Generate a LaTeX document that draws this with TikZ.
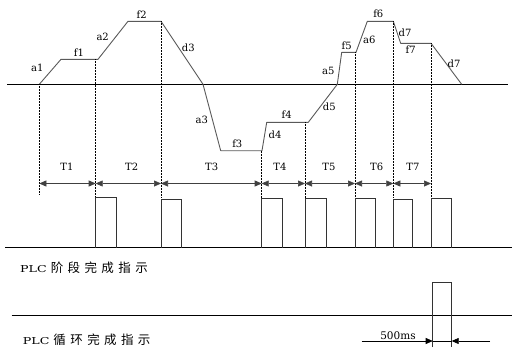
\documentclass[tikz,border=0pt]{standalone}
\usepackage{fontspec}
\setmainfont{DejaVu Serif}
\newfontfamily\cjkfont{Noto Sans CJK SC}
\usetikzlibrary{arrows.meta}
\newcommand\cjc[1]{\makebox[16.9pt][l]{#1}}
\newcommand\plcword{\scalebox{1.33}[1]{\fontsize{9.5}{10}\selectfont PLC}}
\begin{document}
\begin{tikzpicture}[x=1pt,y=-1pt,
  wave/.style={draw=black!65, line width=0.9pt, line join=round},
  guide/.style={densely dotted, line width=0.5pt},
  dimarrow/.style={{Triangle[length=7pt,width=6pt]}-{Triangle[length=7pt,width=6pt]}, line width=0.6pt, draw=black!75},
  onearrow/.style={-{Triangle[length=7pt,width=6pt]}, line width=0.6pt},
  lbl/.style={font=\fontsize{10}{11}\selectfont, inner sep=0pt},
  pulse/.style={line width=0.7pt, draw=black!80},
  base/.style={line width=0.6pt},
  cjklbl/.style={inner sep=0pt, anchor=west}
]
\useasboundingbox (0,0) rectangle (513,348);

% axes / baselines
\draw[base] (7,84.3) -- (508,84.3);
\draw[base] (5,247.7) -- (511.7,247.7);
\draw[base] (11.7,315) -- (511.7,315);

% frequency profile
\draw[wave] (39.3,84.3) -- (61,59.3) -- (98,59.3) -- (128,21.3) -- (161,21.3)
  -- (203,84.3) -- (220.7,150.7) -- (262,150.7) -- (266.7,122.3) -- (308.3,122.3)
  -- (337.3,84.3) -- (341.7,52.3) -- (356,52.3) -- (367.3,21.3) -- (393.3,21.3)
  -- (400.7,43.3) -- (431,43.3) -- (461.7,84.3);

% stage boundary coordinates
\coordinate (g0t) at (39.3,84.3);  \coordinate (g0b) at (39.3,195);
\coordinate (g1t) at (95.7,59.3);  \coordinate (g1b) at (95.7,198);
\coordinate (g2t) at (161,21.3);   \coordinate (g2b) at (161,198);
\coordinate (g3t) at (261.7,150.7);\coordinate (g3b) at (261.7,198);
\coordinate (g4t) at (305,122.3);  \coordinate (g4b) at (305,198);
\coordinate (g5t) at (355,52.3);   \coordinate (g5b) at (355,198);
\coordinate (g6t) at (393.3,21.3); \coordinate (g6b) at (393.3,198);
\coordinate (g7t) at (431,43.3);   \coordinate (g7b) at (431,198);
\foreach \i in {0,...,7} \draw[guide] (g\i t) -- (g\i b);

% stage duration arrows
\coordinate (a0) at (39.3,183.5);
\coordinate (a1) at (95.7,183.5);
\coordinate (a2) at (161,183.5);
\coordinate (a3) at (261.7,183.5);
\coordinate (a4) at (305,183.5);
\coordinate (a5) at (355,183.5);
\coordinate (a6) at (393.3,183.5);
\coordinate (a7) at (431,183.5);
\draw[dimarrow] (a0) -- (a1);
\draw[dimarrow] (a1) -- (a2);
\draw[dimarrow] (a2) -- (a3);
\draw[dimarrow] (a3) -- (a4);
\draw[dimarrow] (a4) -- (a5);
\draw[dimarrow] (a5) -- (a6);
\draw[dimarrow] (a6) -- (a7);

\node[lbl] (T1) at (67,167) {T1};
\node[lbl] (T2) at (131.7,167) {T2};
\node[lbl] (T3) at (211.7,167) {T3};
\node[lbl] (T4) at (280,167) {T4};
\node[lbl] (T5) at (329,167) {T5};
\node[lbl] (T6) at (376.7,167) {T6};
\node[lbl] (T7) at (413,167) {T7};

% curve labels
\node[lbl] (la1) at (37.3,67.7) {a1};
\node[lbl] (lf1) at (79,52.7) {f1};
\node[lbl] (la2) at (102.7,36.7) {a2};
\node[lbl] (lf2) at (141.7,15) {f2};
\node[lbl] (ld3) at (188.3,47.7) {d3};
\node[lbl] (la3) at (201.7,120) {a3};
\node[lbl] (lf3) at (237.3,143.3) {f3};
\node[lbl] (ld4) at (275,135) {d4};
\node[lbl] (lf4) at (286.7,115) {f4};
\node[lbl] (ld5) at (329.3,106.7) {d5};
\node[lbl] (la5) at (328.3,70.7) {a5};
\node[lbl] (lf5) at (346.7,46) {f5};
\node[lbl] (la6) at (369.3,40) {a6};
\node[lbl] (lf6) at (378.3,14) {f6};
\node[lbl] (ld7a) at (405,32.3) {d7};
\node[lbl] (lf7) at (410.7,50) {f7};
\node[lbl] (ld7b) at (454,64) {d7};

% stage-complete pulses
\foreach \l/\r/\t in {95.7/116/197.7, 161.3/181/199, 261.7/282.3/198.3, 305/326/198.3,
                      355/375.3/198.3, 393.3/412.7/199.3, 431/451/198.3}
  \draw[pulse] (\l,247.7) -- (\l,\t) -- (\r,\t) -- (\r,247.7);

% cycle-complete pulse
\coordinate (cl) at (432.7,341);
\coordinate (cr) at (451.7,341);
\draw[pulse] (432.7,347) -- (432.7,282.7) -- (451.7,282.7) -- (451.7,347);
\draw[line width=0.5pt] (cl) -- (cr);
\coordinate (s1) at (361.7,341);
\coordinate (s2) at (490,341);
\draw[onearrow] (s1) -- (cl);
\draw[onearrow] (s2) -- (cr);
\node[font=\fontsize{10.5}{11}\selectfont, inner sep=0pt] (ms) at (398,335.5) {500ms};

% row labels
\node[cjklbl] (stage) at (20,267.5) {\plcword\hspace{4pt}{\cjkfont\fontsize{12.5}{13}\selectfont\cjc{阶}\cjc{段}\cjc{完}\cjc{成}\cjc{指}示}};
\node[cjklbl] (cycle) at (22.7,340) {\plcword\hspace{4pt}{\cjkfont\fontsize{12.5}{13}\selectfont\cjc{循}\cjc{环}\cjc{完}\cjc{成}\cjc{指}示}};
\end{tikzpicture}
\end{document}
